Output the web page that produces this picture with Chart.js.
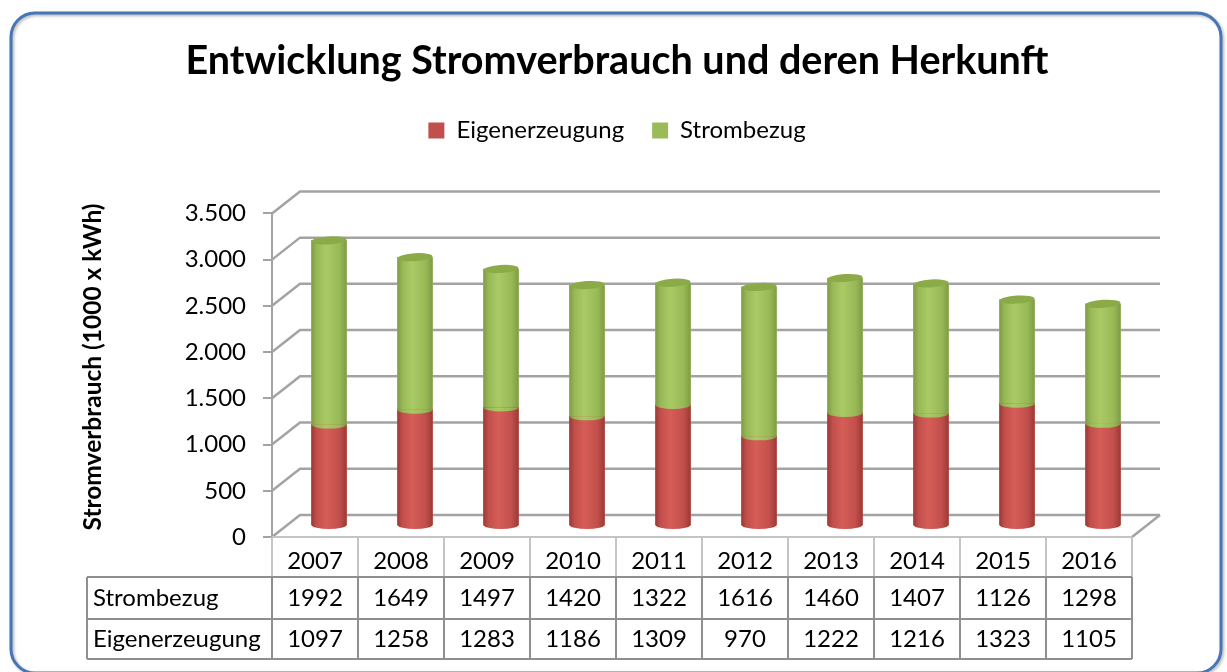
<!DOCTYPE html>
<html lang="de">
<head>
<meta charset="UTF-8">
<title>Entwicklung Stromverbrauch</title>
<script src="https://cdn.jsdelivr.net/npm/chart.js"></script>
<style>
  html, body { margin: 0; padding: 0; background: #fff; }
  #wrap { width: 1227px; height: 672px; }
</style>
</head>
<body>
<div id="wrap"><canvas id="grafico"></canvas></div>
<script>
  // Daten
  var jahre = ['2007', '2008', '2009', '2010', '2011', '2012', '2013', '2014', '2015', '2016']
  var strombezug = [1992, 1649, 1497, 1420, 1322, 1616, 1460, 1407, 1126, 1298]
  var eigenerzeugung = [1097, 1258, 1283, 1186, 1309, 970, 1222, 1216, 1323, 1105]
  var yMax = 3500
  var yStep = 500
  var yTitel = 'Stromverbrauch (1000 x kWh)'

  // Tiefe der 3D-Rückwand
  var DX = 28, DY = 22
  var FONT = 'Lato'

  function tausender(v) {
    return String(v).replace(/\B(?=(\d{3})+(?!\d))/g, '.')
  }

  function zylinderVerlauf(ctx, x, r, farben) {
    var g = ctx.createLinearGradient(x - r, 0, x + r, 0)
    g.addColorStop(0, farben[0])
    g.addColorStop(0.15, farben[1])
    g.addColorStop(0.42, farben[2])
    g.addColorStop(0.8, farben[1])
    g.addColorStop(1, farben[0])
    return g
  }

  var rot = ['#9c3a37', '#c24f4b', '#d65d58']
  var gruen = ['#7f9c45', '#99b957', '#a9ca65']

  var chart3d = {
    id: 'chart3d',
    beforeLayout(chart) {
      // mehr Abstand zwischen Legende und Diagramm
      var lg = chart.legend
      if (lg && !lg._gapPatched) {
        var fit = lg.fit
        lg.fit = function () { fit.call(this); this.height += 61 }
        lg._gapPatched = true
      }
    },
    beforeDraw(chart) {
      var ctx = chart.ctx
      ctx.save()
      ctx.fillStyle = '#fff'
      ctx.fillRect(0, 0, chart.width, chart.height)
      ctx.shadowColor = 'rgba(0,0,0,0.3)'
      ctx.shadowBlur = 3
      ctx.shadowOffsetX = 1.5
      ctx.shadowOffsetY = 1.5
      ctx.beginPath()
      ctx.roundRect(11, 13, 1210, 660, 24)
      ctx.strokeStyle = '#4676b6'
      ctx.lineWidth = 3
      ctx.stroke()
      ctx.restore()
    },
    beforeDatasetsDraw(chart) {
      var ctx = chart.ctx, a = chart.chartArea, y = chart.scales.y
      ctx.save()
      ctx.strokeStyle = '#a3a3a3'
      ctx.lineWidth = 2.5
      y.ticks.forEach(function (t) {
        var py = y.getPixelForValue(t.value)
        ctx.beginPath()
        ctx.moveTo(a.left, py)
        ctx.lineTo(a.left + DX, py - DY)
        ctx.lineTo(a.right + DX, py - DY)
        ctx.stroke()
      })
      ctx.beginPath()
      ctx.moveTo(a.right, a.bottom)
      ctx.lineTo(a.right + DX, a.bottom - DY)
      ctx.stroke()
      ctx.restore()
      // Säulen in der Mitte der Tiefe
      ctx.save()
      ctx.translate(DX / 2, -DY / 2)
    },
    afterDatasetsDraw(chart) {
      var ctx = chart.ctx
      var unten = chart.getDatasetMeta(0).data
      var oben = chart.getDatasetMeta(1).data
      var ry = 4
      for (var i = 0; i < unten.length; i++) {
        var e = unten[i].getProps(['x', 'y', 'base', 'width'], true)
        var s = oben[i].getProps(['x', 'y', 'base', 'width'], true)
        var r = e.width / 2

        ctx.fillStyle = zylinderVerlauf(ctx, e.x, r, rot)
        ctx.fillRect(e.x - r, e.y, e.width, e.base - e.y)
        ctx.beginPath()
        ctx.ellipse(e.x, e.base, r, ry, 0, 0, Math.PI)
        ctx.fill()

        ctx.fillStyle = zylinderVerlauf(ctx, s.x, r, gruen)
        ctx.fillRect(s.x - r, s.y, s.width, s.base - s.y)
        ctx.beginPath()
        ctx.ellipse(s.x, s.base, r, ry, 0, 0, Math.PI)
        ctx.fill()

        ctx.beginPath()
        ctx.ellipse(s.x, s.y, r, ry, -0.06, 0, Math.PI * 2)
        ctx.fillStyle = '#8aab47'
        ctx.fill()
      }
      ctx.restore()
    },
    afterDraw(chart) {
      var ctx = chart.ctx, a = chart.chartArea, x = chart.scales.x

      // Achsentitel (fett, senkrecht)
      ctx.save()
      ctx.translate(93, 367)
      ctx.rotate(-Math.PI / 2)
      ctx.fillStyle = '#000'
      ctx.font = 'bold 24.5px ' + FONT
      ctx.textAlign = 'center'
      ctx.textBaseline = 'middle'
      ctx.fillText(yTitel, 0, 0)
      ctx.restore()

      // Datentabelle unter der x-Achse
      var n = jahre.length
      var colW = (a.right - a.left) / n
      var r0 = a.bottom, r1 = a.bottom + 40, r2 = a.bottom + 82, r3 = a.bottom + 122
      var links = 87
      ctx.save()
      ctx.lineWidth = 2
      ctx.strokeStyle = '#c4c4c4'
      for (var i = 0; i <= n; i++) {
        var px = Math.round(a.left + i * colW)
        ctx.beginPath(); ctx.moveTo(px, r0); ctx.lineTo(px, r1); ctx.stroke()
      }
      ctx.beginPath(); ctx.moveTo(a.left, r0); ctx.lineTo(a.right, r0); ctx.stroke()

      ctx.strokeStyle = '#8f8f8f'
      ;[r1, r2, r3].forEach(function (ry) {
        ctx.beginPath(); ctx.moveTo(links, ry); ctx.lineTo(a.right, ry); ctx.stroke()
      })
      ctx.beginPath(); ctx.moveTo(links, r1); ctx.lineTo(links, r3); ctx.stroke()
      for (var j = 0; j <= n; j++) {
        var qx = Math.round(a.left + j * colW)
        ctx.beginPath(); ctx.moveTo(qx, r1); ctx.lineTo(qx, r3); ctx.stroke()
      }

      ctx.fillStyle = '#000'
      ctx.font = '24px ' + FONT
      ctx.textBaseline = 'middle'
      ctx.textAlign = 'left'
      ctx.fillText('Strombezug', links + 6, (r1 + r2) / 2)
      ctx.fillText('Eigenerzeugung', links + 6, (r2 + r3) / 2)
      ctx.textAlign = 'center'
      for (var k = 0; k < n; k++) {
        var cx = x.getPixelForValue(k)
        ctx.fillText(String(strombezug[k]), cx, (r1 + r2) / 2)
        ctx.fillText(String(eigenerzeugung[k]), cx, (r2 + r3) / 2)
      }
      ctx.restore()
    }
  }

  var daten = {
    labels: jahre,
    datasets: [{
      label: 'Eigenerzeugung',
      data: eigenerzeugung,
      backgroundColor: '#c0504d',
      borderWidth: 0
    }, {
      label: 'Strombezug',
      data: strombezug,
      backgroundColor: '#9bbb59',
      borderWidth: 0
    }]
  }

  var config = {
    type: 'bar',
    data: daten,
    options: {
      responsive: false,
      animation: false,
      layout: { padding: { left: 102, right: 95, top: 18, bottom: 0 } },
      datasets: { bar: { barThickness: 35, clip: false } },
      plugins: {
        title: {
          display: true,
          text: 'Entwicklung Stromverbrauch und deren Herkunft',
          color: '#000',
          font: { family: FONT, size: 39.5, weight: 700 },
          padding: { top: 20, bottom: 5 }
        },
        legend: {
          labels: {
            color: '#000',
            font: { family: FONT, size: 24 },
            boxWidth: 16,
            boxHeight: 16,
            padding: 28
          }
        },
        tooltip: { enabled: false }
      },
      scales: {
        x: {
          stacked: true,
          grid: { display: false },
          border: { display: false },
          ticks: { color: '#000', font: { family: FONT, size: 24 }, padding: 2 },
          afterFit: function (s) { s.height = 135 }
        },
        y: {
          stacked: true,
          min: 0,
          max: yMax,
          ticks: {
            stepSize: yStep,
            color: '#000',
            font: { family: FONT, size: 24 },
            padding: 17,
            callback: function (v) { return tausender(v) }
          },
          grid: {
            drawOnChartArea: false,
            drawTicks: true,
            tickLength: 9,
            color: '#a3a3a3',
            lineWidth: 2
          },
          border: { display: true, color: '#a3a3a3', width: 2 },
          afterFit: function (s) { s.width = 170 }
        }
      }
    },
    plugins: [chart3d]
  }

  var canvas = document.getElementById('grafico')
  canvas.width = 1227
  canvas.height = 672
  var grafico = new Chart(canvas, config)
</script>
</body>
</html>
